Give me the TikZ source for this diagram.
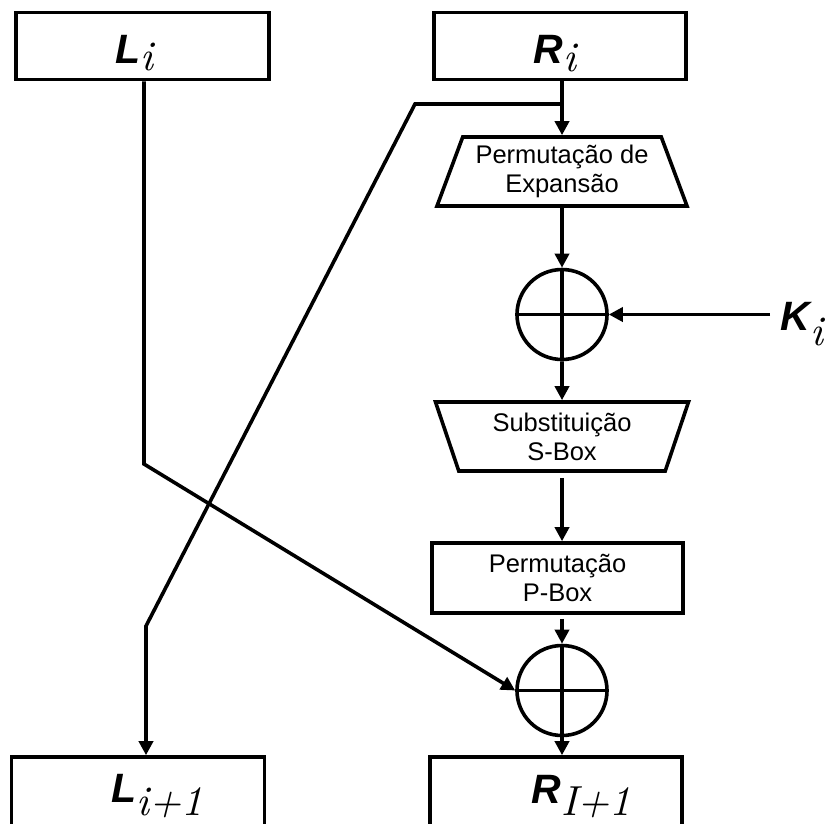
\documentclass[tikz,border=0pt]{standalone}
\usepackage{fontspec}
\newfontfamily\arialfam{Liberation Sans}
\newfontfamily\lmtenit{lmroman10-italic}[Extension=.otf]
\usetikzlibrary{arrows.meta,shapes.geometric}
\newcommand\mainsym[1]{{\arialfam\bfseries\itshape\fontsize{41}{41}\selectfont #1}}
\newcommand\subsym[2]{\raisebox{-#1}{\lmtenit\fontsize{42}{42}\selectfont #2}}
\newcommand\boxfont{\arialfam\fontsize{25.5}{29}\selectfont}
\begin{document}
\begin{tikzpicture}[x=1pt,y=-1pt,line width=3.6pt,
  arr/.style={-{Triangle[length=14pt,width=14pt]}},
  box/.style={draw,rectangle,line width=3.6pt,minimum width=253pt,minimum height=67pt,inner sep=0pt,align=center,font=\boxfont},
  trap/.style={draw,trapezium,trapezium left angle=64,trapezium right angle=64,trapezium stretches body,
    minimum width=250pt,minimum height=69pt,inner sep=0pt,align=center,font=\boxfont},
  xor/.style={draw,circle,minimum size=90pt,inner sep=0pt},
  lbl/.style={inner sep=0pt,anchor=base west}]
\useasboundingbox (0,0) rectangle (829,823);
\clip (0,0) rectangle (829,823);
% boxes
\node[box] (Li) at (142.5,46) {};
\node[box,minimum width=252pt] (Ri) at (560,46) {};
\node[trap] (exp) at (562,171.5) {Permutação de\\Expansão};
\node[xor] (x1) at (562,314.5) {};
\node[trap,shape border rotate=180,minimum width=253pt] (sbox) at (562,436.5) {Substituição\\S-Box};
\node[box,minimum width=251pt,minimum height=70pt] (pbox) at (557.5,578) {Permutação\\P-Box};
\node[xor] (x2) at (562,690.5) {};
\node[box,minimum height=86pt] (Lip1) at (138,800) {};
\node[box,minimum width=252pt,minimum height=86pt] (Rip1) at (556,800) {};
% labels
\node[lbl] (tLi) at (114,63) {\mainsym{L}\subsym{7pt}{i}};
\node[lbl] (tRi) at (532,63) {\mainsym{R}\subsym{8pt}{i}};
\node[lbl] (Ki) at (779,330) {\mainsym{K}\subsym{15pt}{i}};
\node[lbl] (tLip1) at (110,802) {\mainsym{L}\subsym{13pt}{i+1}};
\node[lbl] (tRip1) at (530,803) {\mainsym{R}\subsym{12pt}{I+1}};
% xor crosses
\draw (x1.north) -- (x1.south) (x1.west) -- (x1.east);
\draw (x2.north) -- (x2.south) (x2.west) -- (x2.east);
% coordinates
\coordinate (br) at (562,104);
\coordinate (b1) at (415,104);
\coordinate (b2) at (146,626);
\coordinate (a1) at (144,464);
\coordinate (kstart) at (770,314.5);
% connectors
\draw[arr] (Ri.south -| exp.north) -- (exp.north);
\draw[arr] (br) -- (b1) -- (b2) -- (b2 |- Lip1.north);
\draw[arr] (a1 |- Li.south) -- (a1) -- (x2.west);
\draw[arr] (exp.south) -- (x1.north);
\draw[arr] (kstart) -- (x1.east);
\draw[arr] (x1.south) -- (sbox.north);
\draw[arr,shorten <=5pt] (sbox.south) -- (sbox.south |- pbox.north);
\draw[arr,shorten <=4pt] (pbox.south -| x2.north) -- (x2.north);
\draw[arr] (x2.south) -- (x2.south |- Rip1.north);
\end{tikzpicture}
\end{document}
